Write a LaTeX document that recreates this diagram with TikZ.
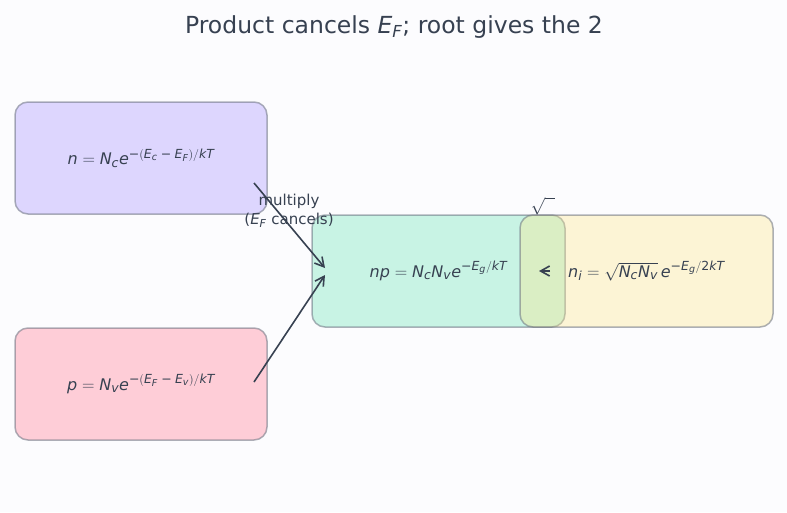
\documentclass[tikz,border=0pt]{standalone}
\usepackage{fontspec}
\setmainfont{DejaVu Sans}
\usetikzlibrary{arrows.meta}
\DeclareMathSizes{16}{16}{12.5}{9.5}
\DeclareMathSizes{15}{15}{11}{8}
\DeclareMathSizes{23.5}{23.5}{16.5}{12}
\DeclareMathSizes{19}{19}{13}{10}
\newcommand{\eqs}{\mathrel{\mathrm{=}}}
\newcommand{\mns}{\mskip5mu\mathord{\mathrm{−}}\mskip5mu}
\newcommand{\mnu}{\mathord{\mathrm{−}}}
\newcommand{\lp}{\mathopen{\mathrm{(}}}
\newcommand{\rp}{\mathclose{\mathrm{)}}}
\definecolor{bg}{RGB}{252,252,254}
\definecolor{ink}{RGB}{55,65,81}
\definecolor{fn}{RGB}{221,214,254}
\definecolor{fp}{RGB}{254,205,215}
\definecolor{fnp}{RGB}{200,243,228}
\definecolor{fni}{RGB}{253,230,138}
\definecolor{edge}{RGB}{107,114,128}
\tikzset{
  box/.style={draw=edge, draw opacity=0.55, line width=1.5pt, rounded corners=13pt,
    minimum width=252pt, minimum height=112pt, inner sep=0pt, text=ink,
    font=\fontsize{16}{19}\selectfont},
  conn/.style={draw=ink, line width=1.6pt, -{Straight Barb[length=9pt,width=10pt,line width=1.6pt]}},
  lbl/.style={text=ink, font=\fontsize{15}{19}\selectfont, align=center, inner sep=0pt}
}
\begin{document}
\begin{tikzpicture}[x=1pt,y=-1pt]
\useasboundingbox (0,0) rectangle (787,512);
\fill[bg] (0,0) rectangle (787,512);
\node[text=ink, font=\fontsize{23.5}{28}\selectfont] (title) at (394,27) {Product cancels $\mathit{E_F}$; root gives the 2};
\node[box, fill=fn] (n) at (141,158) {$\mathit{n \eqs N_c e^{\mnu\lp E_c \mns E_F\rp/kT}}$};
\node[box, fill=fp] (p) at (141,384) {$\mathit{p \eqs N_v e^{\mnu\lp E_F \mns E_v\rp/kT}}$};
\node[box, fill=fnp, minimum width=253pt] (np) at (438.5,271) {$\mathit{np \eqs N_c N_v e^{\mnu E_g/kT}}$};
\node[box, fill=fni, fill opacity=0.35, text opacity=1, minimum width=253pt] (ni) at (646.5,271) {};
\node[text=ink, font=\fontsize{16}{19}\selectfont, inner sep=0pt] (nitext) at (646.5,271) {$\mathit{n_i \eqs \sqrt{N_c N_v}\, e^{\mnu E_g/\mathrm{2}kT}}$};
\coordinate (a1s) at (254,183);
\coordinate (a1e) at (325,268);
\coordinate (a2s) at (254,382);
\coordinate (a2e) at (325,275);
\coordinate (a3s) at (550,271);
\coordinate (a3e) at (539,271);
\draw[conn] (a1s) -- (a1e);
\draw[conn] (a2s) -- (a2e);
\draw[conn] (a3s) -- (a3e);
\node[lbl] (mult) at (289,211) {multiply\\($\mathit{E_F}$ cancels)};
\node[lbl, font=\fontsize{19}{22}\selectfont] (root) at (543,206) {$\sqrt{\hphantom{n}}$};
\end{tikzpicture}
\end{document}
